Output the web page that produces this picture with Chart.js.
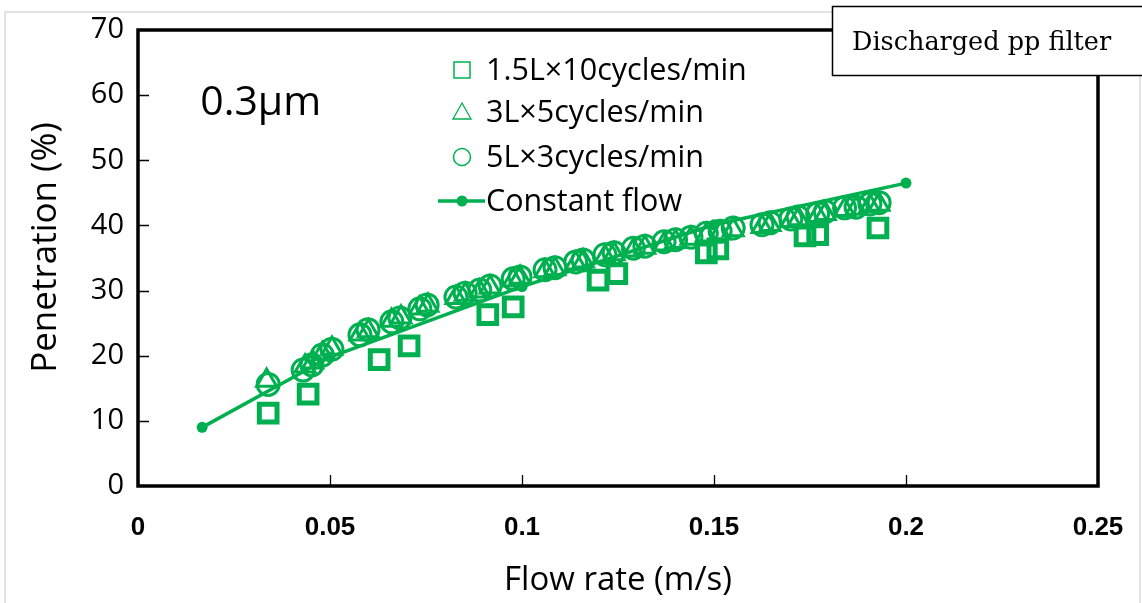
<!DOCTYPE html>
<html>
<head>
<meta charset="utf-8">
<script src="https://cdn.jsdelivr.net/npm/chart.js@4"></script>
<style>
  html, body { margin: 0; padding: 0; background: #fff; }
  #wrap { width: 1142px; height: 603px; position: relative; }
</style>
</head>
<body>
<div id="wrap"><canvas id="c" width="1142" height="603"></canvas></div>
<script>
// ---- data ----
const seriesLabels = ['1.5L×10cycles/min', '3L×5cycles/min', '5L×3cycles/min', 'Constant flow'];

const squareX = [0.0339, 0.0443, 0.0628, 0.0706, 0.0911, 0.0977, 0.1198, 0.1247, 0.148, 0.151, 0.1737, 0.177, 0.1927];
const squareY = [11.2, 14.1, 19.4, 21.5, 26.3, 27.5, 31.6, 32.6, 35.8, 36.4, 38.4, 38.6, 39.6];

const triX = [0.0335, 0.0435, 0.0455, 0.048, 0.0505, 0.0578, 0.06, 0.066, 0.0685, 0.0733, 0.0755, 0.0828, 0.0852, 0.089, 0.0917, 0.0977, 0.0995, 0.106, 0.1086, 0.114, 0.116, 0.1216, 0.124, 0.129, 0.132, 0.137, 0.14, 0.144, 0.148, 0.1516, 0.155, 0.1625, 0.1646, 0.17, 0.172, 0.177, 0.179, 0.184, 0.187, 0.1906, 0.193];
const triY = [16.2, 18.4, 19.0, 20.3, 21.1, 23.3, 23.8, 25.4, 25.9, 27.3, 27.7, 28.9, 29.4, 29.9, 30.5, 31.6, 32.0, 33.0, 33.3, 34.2, 34.5, 35.2, 35.6, 36.2, 36.6, 37.1, 37.5, 38.0, 38.5, 38.8, 39.3, 39.8, 40.1, 40.7, 41.0, 41.5, 41.8, 42.4, 42.6, 43.0, 43.2];

const circX = [0.0339, 0.043, 0.0453, 0.048, 0.0505, 0.0578, 0.0599, 0.0661, 0.0682, 0.0734, 0.0753, 0.0828, 0.0852, 0.089, 0.0917, 0.0977, 0.0995, 0.106, 0.1086, 0.114, 0.1159, 0.1216, 0.124, 0.129, 0.132, 0.137, 0.14, 0.144, 0.148, 0.1516, 0.155, 0.1625, 0.1646, 0.17, 0.1719, 0.177, 0.179, 0.184, 0.187, 0.1906, 0.193];
const circY = [15.6, 17.8, 18.6, 20.1, 21.0, 23.2, 24.0, 25.2, 25.8, 27.2, 27.8, 29.0, 29.6, 30.1, 30.7, 31.8, 32.1, 33.2, 33.5, 34.4, 34.7, 35.5, 35.8, 36.5, 36.8, 37.5, 37.8, 38.2, 38.8, 39.1, 39.6, 40.1, 40.4, 41.0, 41.3, 41.8, 42.1, 42.7, 42.8, 43.3, 43.5];

const constX = [0.0167, 0.05, 0.1, 0.15, 0.2];
const constY = [9.0, 19.8, 30.6, 40.1, 46.5];

const xTicks = [0, 0.05, 0.1, 0.15, 0.2, 0.25];
const xTickLabels = ['0', '0.05', '0.1', '0.15', '0.2', '0.25'];
const yTicks = [0, 10, 20, 30, 40, 50, 60, 70];
const yTickLabels = ['0', '10', '20', '30', '40', '50', '60', '70'];

const GREEN = '#00b050';
const pts = (xs, ys) => xs.map((x, i) => ({ x: x, y: ys[i] }));

// ---- plugins ----
const framePlugin = {
  id: 'frame',
  beforeDraw(chart) {
    const ctx = chart.ctx;
    ctx.save();
    ctx.fillStyle = '#fff';
    ctx.fillRect(0, 0, chart.width, chart.height);
    ctx.strokeStyle = '#d9d9d9';
    ctx.lineWidth = 1.5;
    ctx.strokeRect(5, 12, 1135, 620);
    ctx.restore();
  },
  beforeDatasetsDraw(chart) {
    const ctx = chart.ctx, a = chart.chartArea;
    const xs = chart.scales.x, ys = chart.scales.y;
    ctx.save();
    ctx.strokeStyle = '#000';
    ctx.lineWidth = 1.3;
    ctx.beginPath();
    yTicks.slice(1, -1).forEach(v => {
      const p = Math.round(ys.getPixelForValue(v)) + 0.5;
      ctx.moveTo(a.left, p); ctx.lineTo(a.left + 11, p);
    });
    xTicks.slice(1, -1).forEach(v => {
      const p = Math.round(xs.getPixelForValue(v)) + 0.5;
      ctx.moveTo(p, a.bottom); ctx.lineTo(p, a.bottom - 11);
    });
    ctx.stroke();
    ctx.lineWidth = 3.5;
    ctx.strokeRect(a.left, a.top, a.right - a.left, a.bottom - a.top);
    // annotation text
    ctx.fillStyle = '#000';
    ctx.font = '41px "Open Sans", sans-serif';
    ctx.textBaseline = 'middle';
    ctx.textAlign = 'left';
    ctx.fillText('0.3μm', xs.getPixelForValue(0.0162), ys.getPixelForValue(58.7));
    // y axis title
    ctx.save();
    ctx.translate(46, ys.getPixelForValue(36.6));
    ctx.rotate(-Math.PI / 2);
    ctx.textAlign = 'center';
    ctx.font = '35px "Open Sans", sans-serif';
    ctx.fillText('Penetration (%)', 0, 0);
    ctx.restore();
    ctx.restore();
  },
  afterDraw(chart) {
    const ctx = chart.ctx;
    ctx.save();
    // custom legend
    const lx = 462;
    const rows = [70, 112, 157, 201];
    ctx.font = '30.5px "Open Sans", sans-serif';
    ctx.textBaseline = 'middle';
    ctx.textAlign = 'left';
    chart.data.datasets.forEach((ds, i) => {
      const y = rows[i];
      ctx.strokeStyle = GREEN; ctx.fillStyle = GREEN;
      if (i === 0) {
        ctx.lineWidth = 1.5;
        ctx.strokeRect(lx - 8, y - 8, 16, 16);
      } else if (i === 1) {
        ctx.lineWidth = 1.3;
        ctx.beginPath();
        ctx.moveTo(lx, y - 9); ctx.lineTo(lx + 9, y + 7); ctx.lineTo(lx - 9, y + 7); ctx.closePath();
        ctx.stroke();
      } else if (i === 2) {
        ctx.lineWidth = 1.5;
        ctx.beginPath(); ctx.arc(lx, y, 8.5, 0, Math.PI * 2); ctx.stroke();
      } else {
        ctx.lineWidth = 3.5;
        ctx.beginPath(); ctx.moveTo(lx - 24, y); ctx.lineTo(lx + 23, y); ctx.stroke();
        ctx.beginPath(); ctx.arc(lx, y, 5.5, 0, Math.PI * 2); ctx.fill();
      }
      ctx.fillStyle = '#000';
      ctx.fillText(ds.label, 486, y + 1);
    });
    // box label
    ctx.fillStyle = '#fff';
    ctx.fillRect(832, 6, 320, 70);
    ctx.strokeStyle = '#000';
    ctx.lineWidth = 1.5;
    ctx.strokeRect(832.5, 6.5, 330, 69);
    ctx.fillStyle = '#000';
    ctx.font = '25.5px "DejaVu Serif", serif';
    ctx.fillText('Discharged pp filter', 852, 43);
    ctx.restore();
  }
};

new Chart(document.getElementById('c'), {
  type: 'scatter',
  data: {
    datasets: [
      { label: seriesLabels[0], data: pts(squareX, squareY), pointStyle: 'rect', pointRadius: 12.5, borderWidth: 5,
        borderColor: GREEN, backgroundColor: 'rgba(0,0,0,0)', order: 3 },
      { label: seriesLabels[1], data: pts(triX, triY), pointStyle: 'triangle', pointRadius: 11.5, borderWidth: 3,
        borderColor: GREEN, backgroundColor: 'rgba(0,0,0,0)', order: 2 },
      { label: seriesLabels[2], data: pts(circX, circY), pointStyle: 'circle', pointRadius: 11, borderWidth: 3,
        borderColor: GREEN, backgroundColor: 'rgba(0,0,0,0)', order: 1 },
      { label: seriesLabels[3], data: pts(constX, constY), type: 'line', showLine: true, tension: 0,
        borderColor: GREEN, backgroundColor: GREEN, borderWidth: 3.5, pointRadius: 5.5, pointBorderWidth: 0,
        pointBackgroundColor: GREEN, order: 0 }
    ]
  },
  options: {
    responsive: false,
    animation: false,
    devicePixelRatio: 1,
    layout: { padding: { left: 0, top: 30, right: 44, bottom: 0 } },
    plugins: { legend: { display: false }, tooltip: { enabled: false } },
    scales: {
      x: {
        type: 'linear', min: 0, max: 0.25,
        afterBuildTicks: s => { s.ticks = xTicks.map(v => ({ value: v })); },
        afterFit: s => { s.height = 117; s.paddingLeft = 0; s.paddingRight = 0; },
        grid: { display: false, drawTicks: false },
        border: { display: false },
        ticks: {
          padding: 26, color: '#000',
          font: { family: '"Liberation Sans Narrow", "Liberation Sans", sans-serif', size: 26, weight: 'bold' },
          callback: (v, i) => xTickLabels[i]
        },
        title: { display: true, text: 'Flow rate (m/s)', color: '#000',
          font: { family: '"Open Sans", sans-serif', size: 33 }, padding: { top: 0, bottom: 3 } }
      },
      y: {
        type: 'linear', min: 0, max: 70,
        afterBuildTicks: s => { s.ticks = yTicks.map(v => ({ value: v })); },
        afterFit: s => { s.width = 138; s.paddingTop = 0; s.paddingBottom = 0; },
        grid: { display: false, drawTicks: false },
        border: { display: false },
        ticks: {
          padding: 14, color: '#000',
          font: { family: '"Open Sans", sans-serif', size: 29 },
          callback: (v, i) => yTickLabels[i]
        },
        title: { display: false }
      }
    }
  },
  plugins: [framePlugin]
});
</script>
</body>
</html>
